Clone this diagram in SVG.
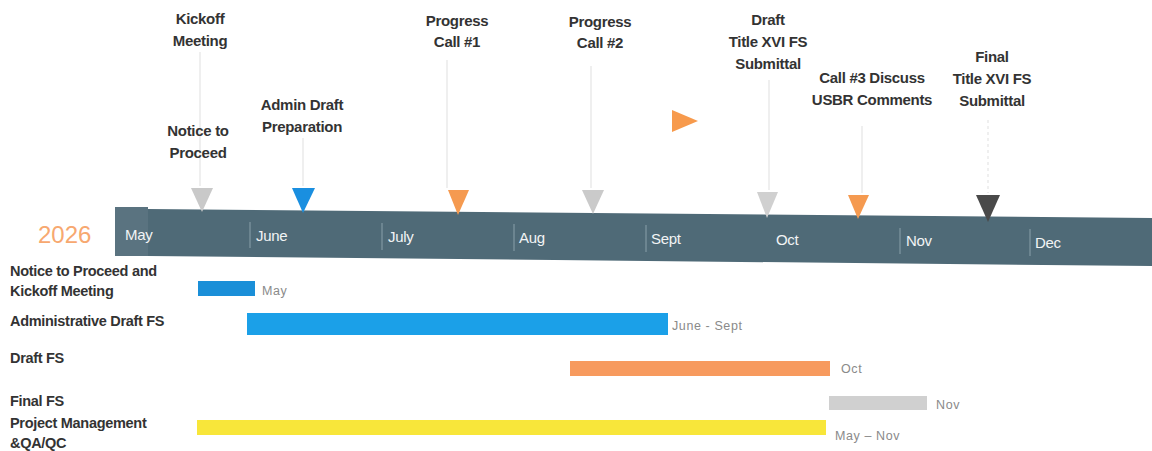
<svg xmlns="http://www.w3.org/2000/svg" width="1152" height="451" viewBox="0 0 1152 451">
<style>
.lbl{font-family:"Liberation Sans",Arial,sans-serif;font-weight:bold;font-size:15px;fill:#333333;text-anchor:middle;letter-spacing:-0.3px}
.row{font-family:"Liberation Sans",Arial,sans-serif;font-weight:bold;font-size:14.5px;fill:#333333;letter-spacing:-0.3px}
.mon{font-family:"Liberation Sans",Arial,sans-serif;font-size:15px;fill:#f2f4f5;letter-spacing:-0.3px}
.sm{font-family:"Liberation Sans",Arial,sans-serif;font-size:12.5px;fill:#8a8a8a;letter-spacing:0.6px}
.stem{stroke:#efefef;stroke-width:2;fill:none}
.div{stroke:#8aa0ab;stroke-width:1}
</style>
<rect width="1152" height="451" fill="#ffffff"/>
<g id="timeline">
<polygon points="148,209 1152,218 1152,266 148,256" fill="#4f6a77"/>
<rect x="115" y="207" width="33" height="49" fill="#5a7380"/>
<line class="div" x1="250" y1="222" x2="250" y2="248"/>
<line class="div" x1="382" y1="223" x2="382" y2="250"/>
<line class="div" x1="514" y1="224" x2="514" y2="251"/>
<line class="div" x1="646" y1="225" x2="646" y2="252"/>
<line class="div" x1="900" y1="228" x2="900" y2="254"/>
<line class="div" x1="1030" y1="229" x2="1030" y2="256"/>
<text class="mon" x="125" y="240">May</text>
<text class="mon" x="256" y="241">June</text>
<text class="mon" x="388" y="242">July</text>
<text class="mon" x="519" y="243">Aug</text>
<text class="mon" x="651" y="244">Sept</text>
<text class="mon" x="776" y="245">Oct</text>
<text class="mon" x="906" y="246">Nov</text>
<text class="mon" x="1035" y="248">Dec</text>
</g>
<text x="38" y="243" font-family="'Liberation Sans',Arial,sans-serif" font-size="24" fill="#f7a870">2026</text>
<g id="connectors">
<line class="stem" x1="200" y1="52" x2="200" y2="186"/>
<line class="stem" x1="303" y1="138" x2="303" y2="186"/>
<line class="stem" x1="447" y1="60" x2="447" y2="188"/>
<line class="stem" x1="591" y1="66" x2="591" y2="188"/>
<line class="stem" x1="769" y1="80" x2="769" y2="190"/>
<line class="stem" x1="862" y1="126" x2="862" y2="193"/>
<line class="stem" x1="988" y1="120" x2="988" y2="193" stroke-dasharray="3,3"/>
</g>
<g id="m-notice"><polygon points="191,188 213,188 202,212" fill="#c9c9c9"/><text class="lbl" x="198" y="136">Notice to</text><text class="lbl" x="198" y="158">Proceed</text></g>
<g id="m-kickoff"><text class="lbl" x="200" y="24">Kickoff</text><text class="lbl" x="200" y="46">Meeting</text></g>
<g id="m-admin"><polygon points="292,188 315,188 303,213" fill="#1a8fe0"/><text class="lbl" x="302" y="110">Admin Draft</text><text class="lbl" x="302" y="132">Preparation</text></g>
<g id="m-call1"><polygon points="448,190 469,190 458,215" fill="#f59a50"/><text class="lbl" x="457" y="26">Progress</text><text class="lbl" x="457" y="47">Call #1</text></g>
<g id="m-call2"><polygon points="582,190 604,190 593,214" fill="#cacaca"/><text class="lbl" x="600" y="27">Progress</text><text class="lbl" x="600" y="48">Call #2</text></g>
<g id="m-flag"><polygon points="672,110 698,121 672,132" fill="#f79a4c"/></g>
<g id="m-draft"><polygon points="757,192 778,192 767,218" fill="#d0d0d0"/><text class="lbl" x="768" y="25">Draft</text><text class="lbl" x="768" y="47">Title XVI FS</text><text class="lbl" x="768" y="69">Submittal</text></g>
<g id="m-call3"><polygon points="848,195 869,195 858,219" fill="#f59a50"/><text class="lbl" x="872" y="83">Call #3 Discuss</text><text class="lbl" x="872" y="105">USBR Comments</text></g>
<g id="m-final"><polygon points="976,195 1000,195 988,222" fill="#4a4a4a"/><text class="lbl" x="992" y="62">Final</text><text class="lbl" x="992" y="84">Title XVI FS</text><text class="lbl" x="992" y="106">Submittal</text></g>
<g id="r-ntp"><text class="row" x="10" y="276">Notice to Proceed and</text><text class="row" x="10" y="296">Kickoff Meeting</text><rect x="198" y="281" width="57" height="15" fill="#1a8fd8"/><text class="sm" x="262" y="295">May</text></g>
<g id="r-admin"><text class="row" x="10" y="326">Administrative Draft FS</text><rect x="247" y="313" width="421" height="22" fill="#1ba0e8"/><text class="sm" x="672" y="330">June - Sept</text></g>
<g id="r-draft"><text class="row" x="10" y="363">Draft FS</text><rect x="570" y="361" width="260" height="15" fill="#f79a5e"/><text class="sm" x="841" y="373">Oct</text></g>
<g id="r-final"><text class="row" x="10" y="406">Final FS</text><rect x="829" y="396" width="98" height="14" fill="#d0d0d0"/><text class="sm" x="936" y="409">Nov</text></g>
<g id="r-pm"><text class="row" x="10" y="428">Project Management</text><text class="row" x="10" y="448">&amp;QA/QC</text><rect x="197" y="420" width="629" height="15" fill="#f8e63a"/><text class="sm" x="835" y="440">May – Nov</text></g>
</svg>
